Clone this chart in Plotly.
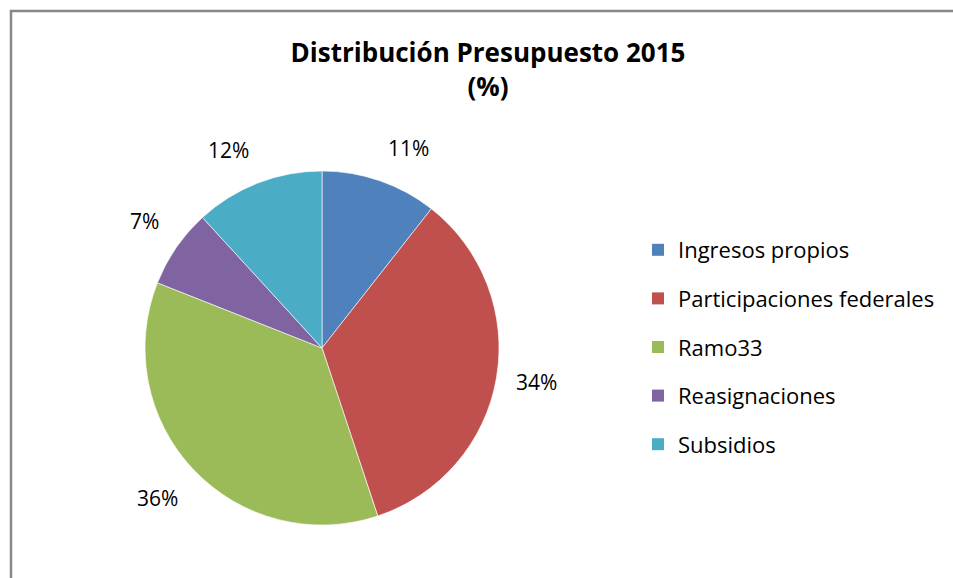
import math
import plotly.graph_objects as go

categories = ["Ingresos propios", "Participaciones federales", "Ramo33", "Reasignaciones", "Subsidios"]
values = [10.6, 34.3, 36.1, 7.2, 11.8]
colors = ["#4F81BD", "#C0504D", "#9BBB59", "#8064A2", "#4BACC6"]

W, H = 953, 578
FONT = "Open Sans"
CX, CY, R = 322, 348, 177
LABEL_R = 195

fig = go.Figure()
fig.add_trace(go.Pie(
    labels=categories, values=values, sort=False, direction="clockwise", rotation=0,
    marker=dict(colors=colors, line=dict(color="rgba(255,255,255,0.6)", width=1)),
    textinfo="none", showlegend=False, hoverinfo="label+percent",
    domain=dict(x=[(CX - R) / W, (CX + R) / W], y=[1 - (CY + R) / H, 1 - (CY - R) / H]),
))
for name, col in zip(categories, colors):
    fig.add_trace(go.Scatter(x=[None], y=[None], mode="markers", name=name,
                             legendgroup=name,
                             marker=dict(symbol="square", size=13, color=col)))

# percentage labels placed outside the slices at their mid-angles
total = sum(values)
cum = 0.0
annotations = []
for v in values:
    mid = (cum + v / 2) / total * 2 * math.pi
    cum += v
    s, c = math.sin(mid), math.cos(mid)
    px = CX + LABEL_R * s
    py = CY - LABEL_R * c
    xa = "left" if s > 0.2 else ("right" if s < -0.2 else "center")
    ya = "bottom" if c > 0.2 else ("top" if c < -0.2 else "middle")
    annotations.append(dict(x=px / W, y=1 - py / H, xref="paper", yref="paper",
                            text=f"{round(v / total * 100)}%", showarrow=False,
                            xanchor=xa, yanchor=ya,
                            font=dict(family=FONT, size=21, color="#000000")))

fig.update_layout(
    width=W, height=H, margin=dict(l=0, r=0, t=0, b=0),
    paper_bgcolor="white", plot_bgcolor="white",
    title=dict(text="<b>Distribución Presupuesto 2015<br>(%)</b>", x=488 / W, xanchor="center",
               yref="container", y=1 - 62 / H, yanchor="middle",
               font=dict(family=FONT, size=26, color="#000000")),
    xaxis=dict(visible=False), yaxis=dict(visible=False),
    legend=dict(x=638 / W, y=1 - 229 / H, xanchor="left", yanchor="top",
                font=dict(family=FONT, size=22, color="#000000"),
                tracegroupgap=17, itemsizing="constant", bgcolor="rgba(0,0,0,0)"),
    annotations=annotations,
    shapes=[dict(type="rect", xref="paper", yref="paper", x0=11 / W, x1=1.2, y0=-0.2, y1=1 - 11 / H,
                 line=dict(color="#888888", width=2.5), fillcolor="rgba(0,0,0,0)")],
)
fig.write_html("out.html")
